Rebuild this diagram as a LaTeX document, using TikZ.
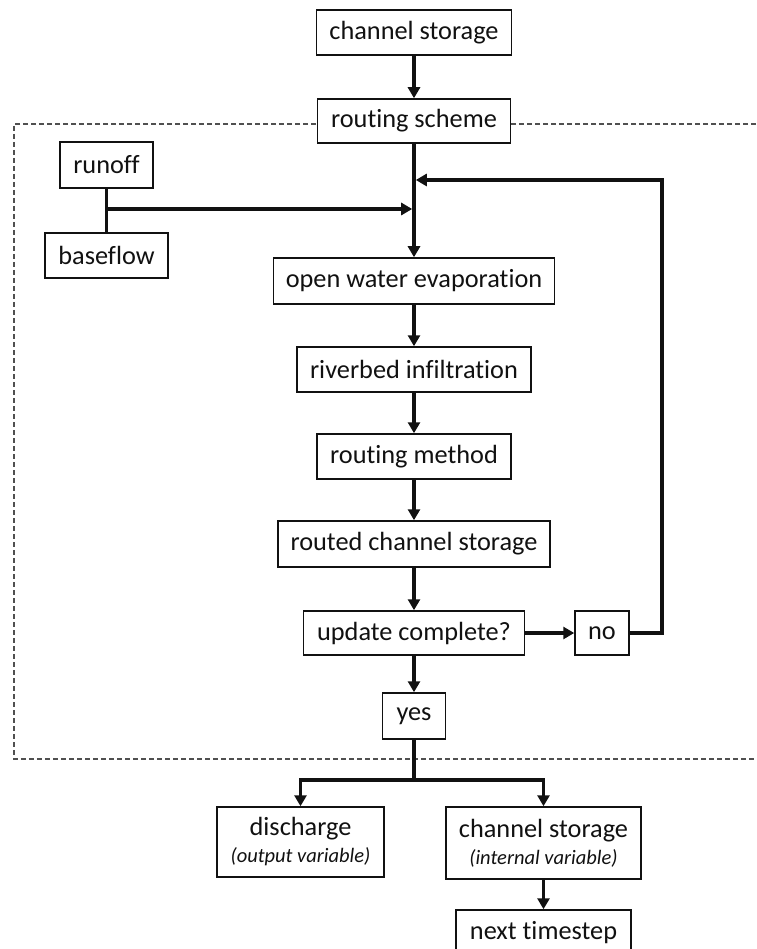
\documentclass[tikz,border=0pt]{standalone}
\usepackage{fontspec}
\setmainfont{Carlito}[Ligatures=NoCommon]
\usetikzlibrary{arrows.meta}
\definecolor{ink}{HTML}{111111}
\definecolor{dashgray}{HTML}{505050}
\newcommand{\varnotefont}{\fontsize{20.5}{22}\selectfont\itshape}
\tikzset{
  box/.style={draw=ink, line width=1.5pt, fill=white, text=ink, inner sep=0pt,
    font=\fontsize{26.3}{29}\selectfont, align=center},
  flow/.style={draw=ink, line width=3.6pt, -{Triangle[length=11pt,width=12pt]}},
  plain/.style={draw=ink, line width=3.6pt},
  frame/.style={draw=dashgray, line width=1.3pt, dash pattern=on 5pt off 3pt}
}
\begin{document}
\begin{tikzpicture}[x=1pt,y=-1pt]
\useasboundingbox (0,0) rectangle (756,949);
\clip (0,0) rectangle (756,949);
% dashed frame (right side beyond the picture)
\draw[frame] (780,124) -- (14,124) -- (14,759) -- (780,759);

\node[box, minimum width=195, minimum height=45] (cs1) at (414,32.5) {channel storage};
\node[box, minimum width=193, minimum height=44] (rs) at (414,121) {routing scheme};
\node[box, minimum width=93, minimum height=46] (runoff) at (106.5,165) {runoff};
\node[box, minimum width=123, minimum height=45] (baseflow) at (106.5,255.5) {baseflow};
\node[box, minimum width=281, minimum height=46] (owe) at (414,281) {open water evaporation};
\node[box, minimum width=234, minimum height=45] (ri) at (414,369.5) {riverbed infiltration};
\node[box, minimum width=194, minimum height=45] (rm) at (414,456.5) {routing method};
\node[box, minimum width=272, minimum height=46] (rcs) at (414,544) {routed channel storage};
\node[box, minimum width=221, minimum height=44] (uc) at (414,633) {update complete?};
\node[box, minimum width=54, minimum height=44] (no) at (602,633) {no};
\node[box, minimum width=63, minimum height=46] (yes) at (414,716) {yes};
\node[box, minimum width=167, minimum height=70] (dis) at (300.5,842) {discharge\\[-2pt]{\varnotefont (output variable)}};
\node[box, minimum width=195, minimum height=72] (cs2) at (543.5,843) {channel storage\\[-2pt]{\varnotefont (internal variable)}};
\node[box, minimum width=175, minimum height=45] (nt) at (543.5,932.5) {next timestep};

\coordinate (jin) at (414,209);
\coordinate (jfb) at (414,180);
\coordinate (fbc) at (662,180);
\coordinate (split) at (414,780);

\draw[flow] (cs1) -- (rs);
\draw[flow] (rs) -- (owe);
\draw[plain] (runoff) -- (baseflow);
\draw[flow] (runoff.south |- jin) -- ([xshift=-1.8pt]jin);
\draw[flow] (no.east) -- (fbc |- no.east) -- (fbc) -- ([xshift=1.8pt]jfb);
\draw[flow] (owe) -- (ri);
\draw[flow] (ri) -- (rm);
\draw[flow] (rm) -- (rcs);
\draw[flow] (rcs) -- (uc);
\draw[flow] (uc) -- (no);
\draw[flow] (uc) -- (yes);
\draw[plain] (yes.south) -- (split);
\draw[flow] (split) -| (dis.north);
\draw[flow] (split) -| (cs2.north);
\draw[flow] (cs2) -- (nt);
\end{tikzpicture}
\end{document}
